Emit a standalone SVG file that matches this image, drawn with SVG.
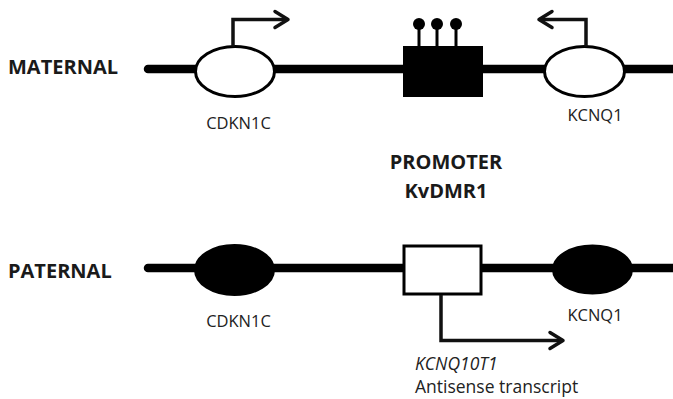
<svg xmlns="http://www.w3.org/2000/svg" width="673" height="399" viewBox="0 0 673 399">
  <defs>
    <style>
      .chrom { stroke: #000; stroke-width: 8.5; stroke-linecap: round; fill: none; }
      .open { fill: #fff; stroke: #000; stroke-width: 3; }
      .solid { fill: #000; stroke: #000; stroke-width: 2; }
      .tss { fill: none; stroke: #111; stroke-width: 3.5; stroke-linejoin: miter; }
      .head { fill: none; stroke: #111; stroke-width: 3.5; stroke-linecap: round; stroke-linejoin: round; }
      .title { font-family: "Open Sans", "Noto Sans", sans-serif; font-weight: bold; font-size: 20px; fill: #1a1a1a; }
      .gene { font-family: "Open Sans", "Noto Sans", sans-serif; font-size: 16.5px; fill: #222; }
      .note { font-family: "Open Sans", "Noto Sans", sans-serif; font-size: 17.5px; fill: #222; }
    </style>
  </defs>

  <!-- chromosome backbones -->
  <g id="backbones">
    <line class="chrom" x1="148" y1="69" x2="680" y2="69"/>
    <line class="chrom" x1="148" y1="268" x2="680" y2="268"/>
  </g>

  <!-- maternal allele -->
  <text class="title" x="8" y="74">MATERNAL</text>
  <g id="mat-cdkn1c">
    <ellipse class="open" cx="235" cy="71.5" rx="39.5" ry="25"/>
    <text class="gene" x="238.5" y="129" text-anchor="middle">CDKN1C</text>
  </g>
  <g id="mat-kvdmr1">
    <rect x="403" y="46" width="80" height="51" fill="#000"/>
    <g stroke="#000" stroke-width="3">
      <line x1="419" y1="24" x2="419" y2="46"/>
      <line x1="437" y1="24" x2="437" y2="46"/>
      <line x1="456" y1="24" x2="456" y2="46"/>
    </g>
    <circle cx="419" cy="24" r="6" fill="#000"/>
    <circle cx="437" cy="24" r="6" fill="#000"/>
    <circle cx="456" cy="24" r="6" fill="#000"/>
  </g>
  <g id="mat-kcnq1">
    <ellipse class="open" cx="584.5" cy="71.5" rx="40" ry="25"/>
    <text class="gene" x="595" y="121" text-anchor="middle">KCNQ1</text>
  </g>

  <!-- promoter label -->
  <g id="promoter-label">
    <text class="title" x="446" y="169" text-anchor="middle">PROMOTER</text>
    <text class="title" x="446" y="198" text-anchor="middle">KvDMR1</text>
  </g>

  <!-- paternal allele -->
  <text class="title" x="8" y="278">PATERNAL</text>
  <g id="pat-cdkn1c">
    <ellipse class="solid" cx="234.5" cy="270" rx="39.5" ry="25"/>
    <text class="gene" x="238.5" y="327" text-anchor="middle">CDKN1C</text>
  </g>
  <g id="pat-kvdmr1">
    <rect class="open" x="404" y="246" width="77" height="48"/>
  </g>
  <g id="pat-kcnq1">
    <ellipse class="solid" cx="592.5" cy="269.5" rx="39.5" ry="24"/>
    <text class="gene" x="595" y="321" text-anchor="middle">KCNQ1</text>
  </g>
  <g id="kcnq1ot1-label">
    <text class="note" x="415" y="370" font-style="italic">KCNQ10T1</text>
    <text class="note" x="415" y="393">Antisense transcript</text>
  </g>

  <!-- transcription start arrows -->
  <g id="connectors">
    <path class="tss" d="M233 46.5 V19.5 H287"/>
    <path class="head" d="M275 11.5 L288 19.5 L275 27.5"/>
    <path class="tss" d="M586 46.5 V19.5 H540"/>
    <path class="head" d="M552 11.5 L539 19.5 L552 27.5"/>
    <path class="tss" d="M441 295 V340.5 H562"/>
    <path class="head" d="M550 332.5 L563 340.5 L550 348.5"/>
  </g>
</svg>
